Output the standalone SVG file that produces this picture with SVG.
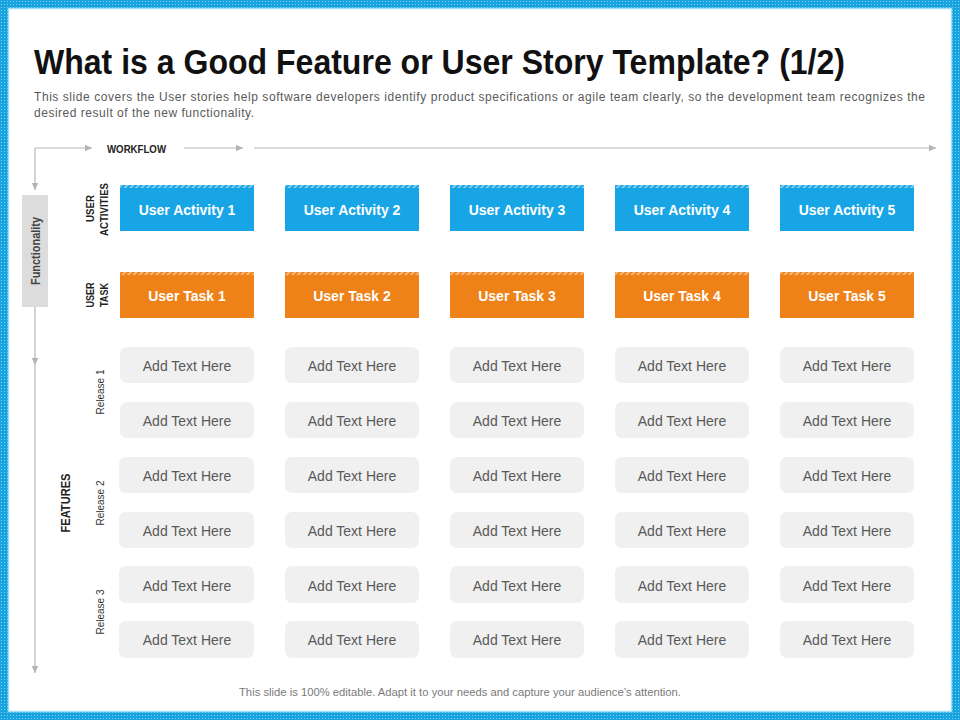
<svg xmlns="http://www.w3.org/2000/svg" width="960" height="720" viewBox="0 0 960 720">
<defs>
<pattern id="dots" width="3" height="3" patternUnits="userSpaceOnUse">
<rect width="3" height="3" fill="#17a3df"/>
<rect x="1" y="1" width="1" height="1" fill="#7fd0f2"/>
</pattern>
<pattern id="hatch" width="4" height="4" patternUnits="userSpaceOnUse" patternTransform="rotate(45)">
<rect width="4" height="4" fill="none"/>
<rect width="2" height="4" fill="#ffffff" fill-opacity="0.45"/>
</pattern>
<marker id="arr" markerWidth="8" markerHeight="8" refX="7" refY="4" orient="auto" markerUnits="userSpaceOnUse">
<path d="M0,0.8 L7,4 L0,7.2 Z" fill="#b3b3b3"/>
</marker>
<style>
.cond{font-family:"Liberation Sans Narrow","Liberation Sans",Arial,sans-serif;font-weight:bold;}
.sans{font-family:"Liberation Sans",Arial,sans-serif;}
.title{font-size:35px;fill:#111;}
.sub{font-size:12px;fill:#595959;}
.lbl{font-size:11px;fill:#222;}
.act{fill:#17a5e6;}
.task{fill:#ee8219;}
.hdr{font-size:14px;font-weight:bold;fill:#ffffff;}
.feat{fill:#f0f0f0;}
.ftxt{font-size:14px;fill:#595959;}
.rel{font-size:10px;fill:#333;}
.conn{stroke:#b8b8b8;stroke-width:1.2;fill:none;}
</style>
</defs>

<rect x="0" y="0" width="960" height="720" fill="url(#dots)"/>
<rect x="8.5" y="8.5" width="943" height="703" fill="#ffffff" stroke="#9fe0f6" stroke-width="1.5"/>

<text class="cond title" x="34" y="74" textLength="811" lengthAdjust="spacingAndGlyphs">What is a Good Feature or User Story Template? (1/2)</text>
<text class="sans sub" x="34" y="101" textLength="891" lengthAdjust="spacing">This slide covers the User stories help software developers identify product specifications or agile team clearly, so the development team recognizes the</text>
<text class="sans sub" x="34" y="117" textLength="220" lengthAdjust="spacing">desired result of the new functionality.</text>

<g id="connectors">
<path class="conn" d="M35,148 H92" marker-end="url(#arr)"/>
<path class="conn" d="M184,148 H243" marker-end="url(#arr)"/>
<path class="conn" d="M254,148 H936" marker-end="url(#arr)"/>
<path class="conn" d="M35,148 V190" marker-end="url(#arr)"/>
<path class="conn" d="M35,307 V365" marker-end="url(#arr)"/>
<path class="conn" d="M35,365 V673" marker-end="url(#arr)"/>
</g>

<text class="cond lbl" x="107" y="152.5" textLength="59" lengthAdjust="spacingAndGlyphs">WORKFLOW</text>

<g id="functionality">
<rect x="22" y="195" width="26" height="112" fill="#dcdcdc"/>
<text class="cond" font-size="13" fill="#444" transform="translate(40,251) rotate(-90)" text-anchor="middle" textLength="68" lengthAdjust="spacingAndGlyphs">Functionality</text>
</g>

<g id="row-labels">
<text class="cond lbl" transform="translate(94,208.5) rotate(-90)" text-anchor="middle" textLength="27" lengthAdjust="spacingAndGlyphs">USER</text>
<text class="cond lbl" transform="translate(108,209.5) rotate(-90)" text-anchor="middle" textLength="53" lengthAdjust="spacingAndGlyphs">ACTIVITIES</text>
<text class="cond lbl" transform="translate(94,295) rotate(-90)" text-anchor="middle" textLength="25" lengthAdjust="spacingAndGlyphs">USER</text>
<text class="cond lbl" transform="translate(108,295) rotate(-90)" text-anchor="middle" textLength="24" lengthAdjust="spacingAndGlyphs">TASK</text>
<text class="cond" font-size="13" fill="#222" transform="translate(70,503) rotate(-90)" text-anchor="middle" textLength="59" lengthAdjust="spacingAndGlyphs">FEATURES</text>
<text class="sans rel" transform="translate(104,392) rotate(-90)" text-anchor="middle">Release 1</text>
<text class="sans rel" transform="translate(104,503) rotate(-90)" text-anchor="middle">Release 2</text>
<text class="sans rel" transform="translate(104,612) rotate(-90)" text-anchor="middle">Release 3</text>
</g>

<g id="activity-1"><rect class="act" x="120" y="185" width="134" height="46"/><rect x="120" y="185" width="134" height="3" fill="url(#hatch)"/><text class="sans hdr" x="187" y="215" text-anchor="middle">User Activity 1</text></g>
<g id="activity-2"><rect class="act" x="285" y="185" width="134" height="46"/><rect x="285" y="185" width="134" height="3" fill="url(#hatch)"/><text class="sans hdr" x="352" y="215" text-anchor="middle">User Activity 2</text></g>
<g id="activity-3"><rect class="act" x="450" y="185" width="134" height="46"/><rect x="450" y="185" width="134" height="3" fill="url(#hatch)"/><text class="sans hdr" x="517" y="215" text-anchor="middle">User Activity 3</text></g>
<g id="activity-4"><rect class="act" x="615" y="185" width="134" height="46"/><rect x="615" y="185" width="134" height="3" fill="url(#hatch)"/><text class="sans hdr" x="682" y="215" text-anchor="middle">User Activity 4</text></g>
<g id="activity-5"><rect class="act" x="780" y="185" width="134" height="46"/><rect x="780" y="185" width="134" height="3" fill="url(#hatch)"/><text class="sans hdr" x="847" y="215" text-anchor="middle">User Activity 5</text></g>

<g id="task-1"><rect class="task" x="120" y="272" width="134" height="46"/><rect x="120" y="272" width="134" height="3" fill="url(#hatch)"/><text class="sans hdr" x="187" y="301" text-anchor="middle">User Task 1</text></g>
<g id="task-2"><rect class="task" x="285" y="272" width="134" height="46"/><rect x="285" y="272" width="134" height="3" fill="url(#hatch)"/><text class="sans hdr" x="352" y="301" text-anchor="middle">User Task 2</text></g>
<g id="task-3"><rect class="task" x="450" y="272" width="134" height="46"/><rect x="450" y="272" width="134" height="3" fill="url(#hatch)"/><text class="sans hdr" x="517" y="301" text-anchor="middle">User Task 3</text></g>
<g id="task-4"><rect class="task" x="615" y="272" width="134" height="46"/><rect x="615" y="272" width="134" height="3" fill="url(#hatch)"/><text class="sans hdr" x="682" y="301" text-anchor="middle">User Task 4</text></g>
<g id="task-5"><rect class="task" x="780" y="272" width="134" height="46"/><rect x="780" y="272" width="134" height="3" fill="url(#hatch)"/><text class="sans hdr" x="847" y="301" text-anchor="middle">User Task 5</text></g>

<g id="feature-r1c1"><rect class="feat" x="120" y="347" width="134" height="36" rx="7"/><text class="sans ftxt" x="187" y="371" text-anchor="middle">Add Text Here</text></g>
<g id="feature-r1c2"><rect class="feat" x="285" y="347" width="134" height="36" rx="7"/><text class="sans ftxt" x="352" y="371" text-anchor="middle">Add Text Here</text></g>
<g id="feature-r1c3"><rect class="feat" x="450" y="347" width="134" height="36" rx="7"/><text class="sans ftxt" x="517" y="371" text-anchor="middle">Add Text Here</text></g>
<g id="feature-r1c4"><rect class="feat" x="615" y="347" width="134" height="36" rx="7"/><text class="sans ftxt" x="682" y="371" text-anchor="middle">Add Text Here</text></g>
<g id="feature-r1c5"><rect class="feat" x="780" y="347" width="134" height="36" rx="7"/><text class="sans ftxt" x="847" y="371" text-anchor="middle">Add Text Here</text></g>

<g id="feature-r2c1"><rect class="feat" x="120" y="402" width="134" height="36" rx="7"/><text class="sans ftxt" x="187" y="426" text-anchor="middle">Add Text Here</text></g>
<g id="feature-r2c2"><rect class="feat" x="285" y="402" width="134" height="36" rx="7"/><text class="sans ftxt" x="352" y="426" text-anchor="middle">Add Text Here</text></g>
<g id="feature-r2c3"><rect class="feat" x="450" y="402" width="134" height="36" rx="7"/><text class="sans ftxt" x="517" y="426" text-anchor="middle">Add Text Here</text></g>
<g id="feature-r2c4"><rect class="feat" x="615" y="402" width="134" height="36" rx="7"/><text class="sans ftxt" x="682" y="426" text-anchor="middle">Add Text Here</text></g>
<g id="feature-r2c5"><rect class="feat" x="780" y="402" width="134" height="36" rx="7"/><text class="sans ftxt" x="847" y="426" text-anchor="middle">Add Text Here</text></g>

<g id="feature-r3c1"><rect class="feat" x="119" y="457" width="135" height="36" rx="7"/><text class="sans ftxt" x="187" y="481" text-anchor="middle">Add Text Here</text></g>
<g id="feature-r3c2"><rect class="feat" x="285" y="457" width="134" height="36" rx="7"/><text class="sans ftxt" x="352" y="481" text-anchor="middle">Add Text Here</text></g>
<g id="feature-r3c3"><rect class="feat" x="450" y="457" width="134" height="36" rx="7"/><text class="sans ftxt" x="517" y="481" text-anchor="middle">Add Text Here</text></g>
<g id="feature-r3c4"><rect class="feat" x="615" y="457" width="134" height="36" rx="7"/><text class="sans ftxt" x="682" y="481" text-anchor="middle">Add Text Here</text></g>
<g id="feature-r3c5"><rect class="feat" x="780" y="457" width="134" height="36" rx="7"/><text class="sans ftxt" x="847" y="481" text-anchor="middle">Add Text Here</text></g>

<g id="feature-r4c1"><rect class="feat" x="119" y="512" width="135" height="36" rx="7"/><text class="sans ftxt" x="187" y="536" text-anchor="middle">Add Text Here</text></g>
<g id="feature-r4c2"><rect class="feat" x="285" y="512" width="134" height="36" rx="7"/><text class="sans ftxt" x="352" y="536" text-anchor="middle">Add Text Here</text></g>
<g id="feature-r4c3"><rect class="feat" x="450" y="512" width="134" height="36" rx="7"/><text class="sans ftxt" x="517" y="536" text-anchor="middle">Add Text Here</text></g>
<g id="feature-r4c4"><rect class="feat" x="615" y="512" width="134" height="36" rx="7"/><text class="sans ftxt" x="682" y="536" text-anchor="middle">Add Text Here</text></g>
<g id="feature-r4c5"><rect class="feat" x="780" y="512" width="134" height="36" rx="7"/><text class="sans ftxt" x="847" y="536" text-anchor="middle">Add Text Here</text></g>

<g id="feature-r5c1"><rect class="feat" x="119" y="566" width="135" height="37" rx="7"/><text class="sans ftxt" x="187" y="591" text-anchor="middle">Add Text Here</text></g>
<g id="feature-r5c2"><rect class="feat" x="285" y="566" width="134" height="37" rx="7"/><text class="sans ftxt" x="352" y="591" text-anchor="middle">Add Text Here</text></g>
<g id="feature-r5c3"><rect class="feat" x="450" y="566" width="134" height="37" rx="7"/><text class="sans ftxt" x="517" y="591" text-anchor="middle">Add Text Here</text></g>
<g id="feature-r5c4"><rect class="feat" x="615" y="566" width="134" height="37" rx="7"/><text class="sans ftxt" x="682" y="591" text-anchor="middle">Add Text Here</text></g>
<g id="feature-r5c5"><rect class="feat" x="780" y="566" width="134" height="37" rx="7"/><text class="sans ftxt" x="847" y="591" text-anchor="middle">Add Text Here</text></g>

<g id="feature-r6c1"><rect class="feat" x="119" y="621" width="135" height="37" rx="7"/><text class="sans ftxt" x="187" y="645" text-anchor="middle">Add Text Here</text></g>
<g id="feature-r6c2"><rect class="feat" x="285" y="621" width="134" height="37" rx="7"/><text class="sans ftxt" x="352" y="645" text-anchor="middle">Add Text Here</text></g>
<g id="feature-r6c3"><rect class="feat" x="450" y="621" width="134" height="37" rx="7"/><text class="sans ftxt" x="517" y="645" text-anchor="middle">Add Text Here</text></g>
<g id="feature-r6c4"><rect class="feat" x="615" y="621" width="134" height="37" rx="7"/><text class="sans ftxt" x="682" y="645" text-anchor="middle">Add Text Here</text></g>
<g id="feature-r6c5"><rect class="feat" x="780" y="621" width="134" height="37" rx="7"/><text class="sans ftxt" x="847" y="645" text-anchor="middle">Add Text Here</text></g>

<text class="sans" font-size="11" fill="#7a7a7a" x="460" y="696" text-anchor="middle" textLength="442" lengthAdjust="spacingAndGlyphs">This slide is 100% editable. Adapt it to your needs and capture your audience’s attention.</text>
</svg>
